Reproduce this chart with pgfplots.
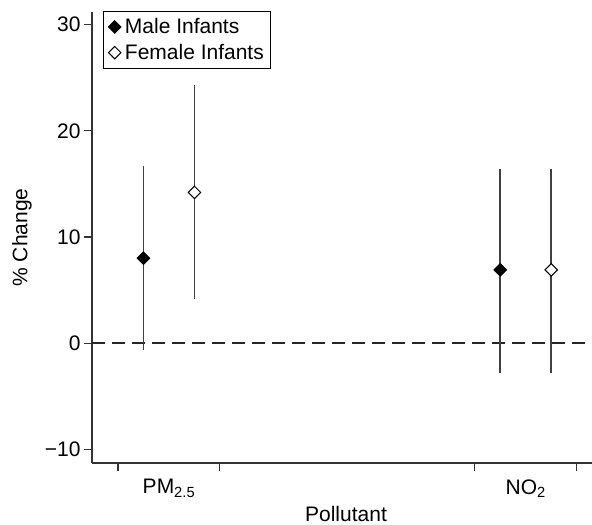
\documentclass[border=0pt]{standalone}
\usepackage{fontspec}
\setmainfont{Liberation Sans}
\usepackage{pgfplots}
\pgfplotsset{compat=1.18}
\newcommand{\lbl}{\fontsize{21}{25}\selectfont}
\begin{document}
\begin{tikzpicture}
\begin{axis}[
    name=main,
    scale only axis, width=500pt, height=451pt,
    xmin=-1.02, xmax=18.6,
    ymin=-11.3, ymax=31.2,
    axis x line=bottom, axis y line=left,
    axis line style={-, black!80, line width=1.1pt},
    tick align=outside, major tick length=8pt,
    tick style={black!80, line width=1.1pt},
    xtick={0,4,14,18}, xticklabels={},
    extra x ticks={2,16},
    extra x tick labels={PM\textsubscript{2.5}, NO\textsubscript{2}},
    extra x tick style={major tick length=0pt, xticklabel style={yshift=-13pt}},
    ytick={-10,0,10,20,30},
    yticklabels={−10,0,10,20,30},
    ticklabel style={font=\lbl},
    label style={font=\lbl},
    xlabel={Pollutant},
    ylabel={\% Change},
    xlabel style={at={(axis description cs:0.508,-0.114)}, anchor=center},
    ylabel style={at={(axis description cs:-0.14,0.5)}, anchor=center},
    legend style={at={(rel axis cs:0.022,1.002)}, anchor=north west,
        draw=black, line width=1pt, font=\lbl, row sep=5pt, column sep=2pt,
        inner xsep=5pt, inner ysep=5pt},
    legend cell align=left,
    legend image code/.code={\draw[#1] plot coordinates {(0pt,0pt)};},
    clip=false,
]
\addplot[forget plot, black!85, line width=1.2pt, dash pattern=on 13pt off 7pt]
    coordinates {(-1.02,0) (18.6,0)};

% male infants
\addplot[only marks, mark=square*, mark size=4.4pt,
    mark options={rotate=45, fill=black, draw=black, line width=1pt},
    error bars/.cd, y dir=both, y explicit, error mark=none,
    error bar style={black!75, line width=1.7pt}]
    coordinates {
    (1,8.0) += (0,8.7) -= (0,8.66)
    (15,6.9) += (0,9.5) -= (0,9.7)
    };
\addlegendentry{Male Infants}

% female infants
\addplot[only marks, mark=square*, mark size=4.4pt,
    mark options={rotate=45, fill=white, draw=black, line width=1pt},
    error bars/.cd, y dir=both, y explicit, error mark=none,
    error bar style={black!75, line width=1.7pt}]
    coordinates {
    (3,14.2) += (0,10.1) -= (0,10.0)
    (17,6.9) += (0,9.5) -= (0,9.7)
    };
\addlegendentry{Female Infants}
\end{axis}
\pgfresetboundingbox
\useasboundingbox ([shift={(-92pt,-62pt)}]main.south west) rectangle ++(592pt,525pt);
\end{tikzpicture}
\end{document}
